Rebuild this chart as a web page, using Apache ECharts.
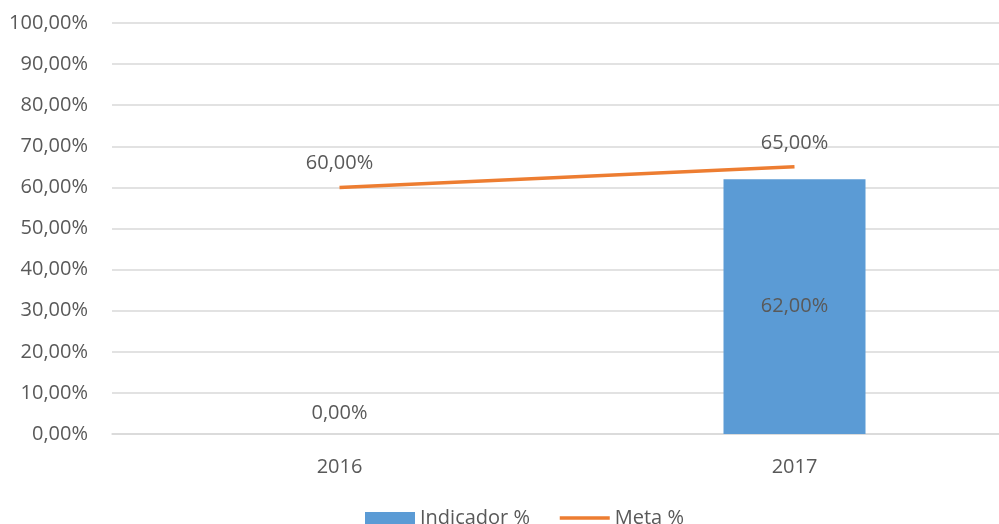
<!DOCTYPE html>
<html>
<head>
<meta charset="utf-8">
<script src="https://cdn.jsdelivr.net/npm/echarts@6/dist/echarts.min.js"></script>
<style>
  html, body { margin: 0; padding: 0; background: #fff; overflow: hidden; }
  /* el área de trazado sigue más allá del borde derecho (recortada) */
  #chart { width: 1022px; height: 524px; }
</style>
</head>
<body>
<div id="chart"></div>
<script>
// datos del gráfico
const years = ["2016", "2017"];
const indicador = [0, 62];
const meta = [60, 65];
const yTicks = [0, 10, 20, 30, 40, 50, 60, 70, 80, 90, 100];

const txt = "#595959";
const fontFam = "'Open Sans', sans-serif";
const fmt = (v) => v.toFixed(2).replace(".", ",") + "%";

const chart = echarts.init(document.getElementById("chart"));
chart.setOption({
  animation: false,
  textStyle: { fontFamily: fontFam },
  grid: { left: 112, right: 0, top: 23, height: 411 },
  legend: {
    top: 503,
    left: 360,
    itemWidth: 50,
    itemHeight: 12,
    itemGap: 28,
    textStyle: { color: txt, fontSize: 20, fontFamily: fontFam },
    data: [
      { name: "Indicador %", icon: "rect" },
      { name: "Meta %", itemStyle: { opacity: 0 }, lineStyle: { width: 3.5 } },
    ],
  },
  xAxis: {
    type: "category",
    data: years,
    axisLine: { lineStyle: { color: "#d9d9d9", width: 1.5 } },
    axisTick: { show: false },
    axisLabel: { color: txt, fontSize: 20, margin: 23 },
  },
  yAxis: {
    type: "value",
    min: yTicks[0],
    max: yTicks[yTicks.length - 1],
    interval: 10,
    axisLine: { show: false },
    axisTick: { show: false },
    splitLine: { lineStyle: { color: "#d9d9d9", width: 1.5 } },
    axisLabel: { color: txt, fontSize: 20, margin: 24, formatter: fmt },
  },
  series: [
    {
      name: "Indicador %",
      type: "bar",
      data: indicador.map((v) =>
        v === 0
          ? { value: v, label: { position: "top", distance: 11 } }
          : { value: v }
      ),
      barWidth: 142,
      itemStyle: { color: "#5b9bd5" },
      label: {
        show: true,
        position: "inside",
        color: txt,
        fontSize: 20,
        formatter: (p) => fmt(p.value),
      },
    },
    {
      name: "Meta %",
      type: "line",
      data: meta,
      symbol: "circle",
      symbolSize: 0.1,
      lineStyle: { color: "#ed7d31", width: 3.5 },
      itemStyle: { color: "#ed7d31" },
      label: {
        show: true,
        position: "top",
        distance: 14,
        color: txt,
        fontSize: 20,
        formatter: (p) => fmt(p.value),
      },
    },
  ],
});
</script>
</body>
</html>
